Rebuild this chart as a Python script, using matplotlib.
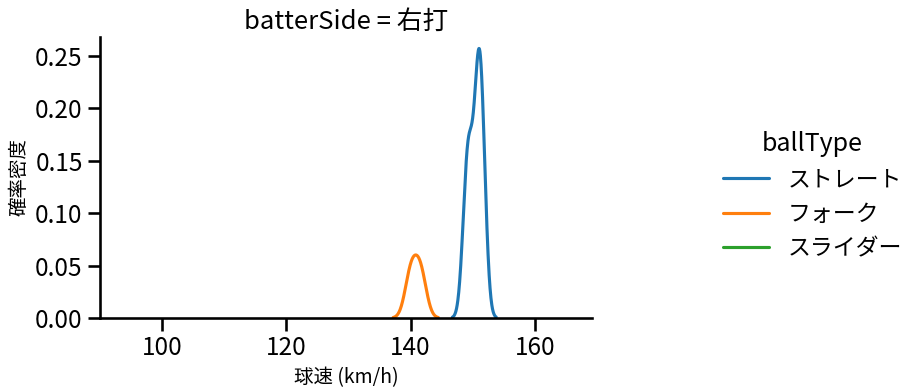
import warnings
warnings.filterwarnings("ignore")
import matplotlib
matplotlib.use("Agg")
import matplotlib.pyplot as plt
import seaborn as sns
import pandas as pd

# Pitch speeds (km/h) per ball type
straight_speeds = [148.8, 149.3, 149.6, 150.6, 150.9, 151.0, 151.4, 151.7]
fork_speeds = [140.05, 141.6]
slider_speeds = []  # listed in the legend, no curve drawn

ball_types = ["ストレート", "フォーク", "スライダー"]
x_label = "球速 (km/h)"
y_label = "確率密度"
title = "batterSide = 右打"
x_ticks = [100, 120, 140, 160]
y_ticks = [0.00, 0.05, 0.10, 0.15, 0.20, 0.25]

df = pd.DataFrame({
    "球速": straight_speeds + fork_speeds + slider_speeds,
    "ballType": [ball_types[0]] * len(straight_speeds)
    + [ball_types[1]] * len(fork_speeds)
    + [ball_types[2]] * len(slider_speeds),
})

sns.set_theme(context="talk", style="ticks")
plt.rcParams["font.family"] = ["Noto Sans CJK JP", "DejaVu Sans"]
plt.rcParams["axes.edgecolor"] = "black"
plt.rcParams["xtick.color"] = "black"
plt.rcParams["ytick.color"] = "black"
plt.rcParams["text.color"] = "black"
plt.rcParams["axes.labelcolor"] = "black"

fig = plt.figure(figsize=(9.21, 3.91), dpi=100)
ax = fig.add_axes([100 / 921, 1 - 318 / 391, 492 / 921, 281 / 391])
sns.kdeplot(data=df, x="球速", hue="ballType", hue_order=ball_types, ax=ax,
            common_norm=True, palette="tab10")
ax.set_xlim(90, 169.2)
ax.set_ylim(0, 0.268)
ax.set_xticks(x_ticks)
ax.set_yticks(y_ticks)
ax.set_yticklabels([f"{v:.2f}" for v in y_ticks])
ax.tick_params(labelsize=17.5)
ax.set_xlabel(x_label, fontsize=14)
ax.set_ylabel(y_label, fontsize=14)
ax.set_title(title, fontsize=18.5)
sns.despine(ax=ax)
sns.move_legend(ax, "center left", bbox_to_anchor=(0.763, 0.5),
                bbox_transform=fig.transFigure, frameon=False,
                title="ballType")

fig.savefig("out.png", dpi=100)
